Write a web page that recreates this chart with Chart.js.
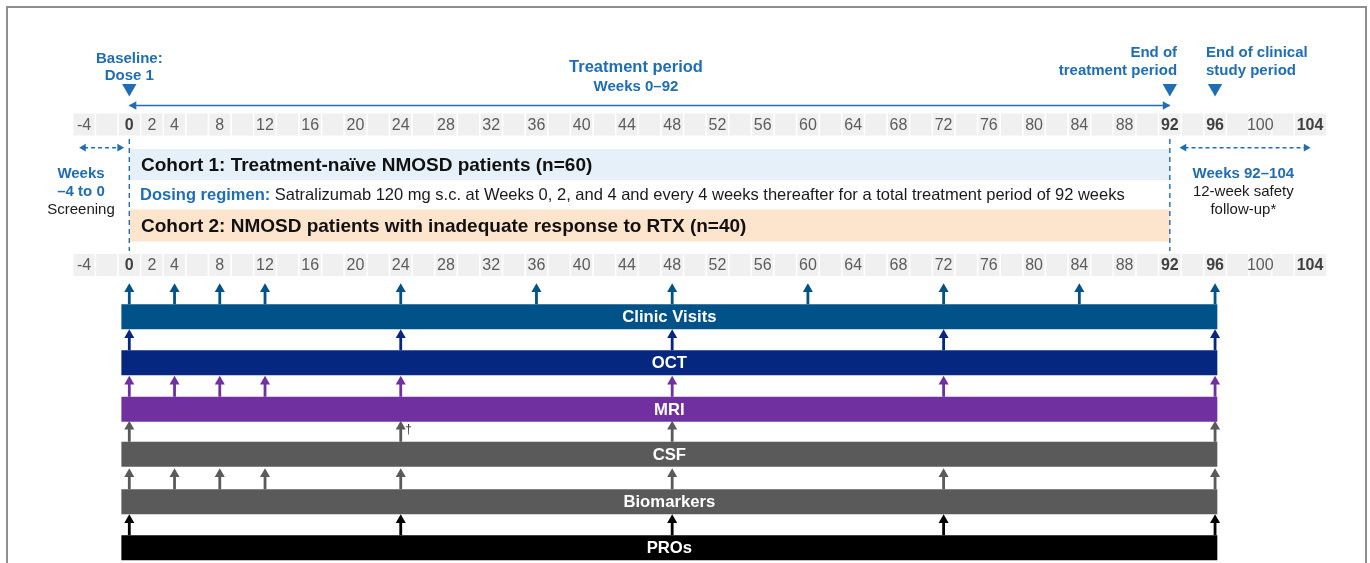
<!DOCTYPE html>
<html><head><meta charset="utf-8">
<script src="https://cdn.jsdelivr.net/npm/chart.js@4.4.1/dist/chart.umd.min.js"></script>
<style>
html,body{margin:0;padding:0;background:#fff;overflow:hidden}
#wrap{position:relative;width:1370px;height:563px}
#frame{position:absolute;left:6px;top:6px;width:1357px;height:620px;border:2px solid #8f8f8f;pointer-events:none}
</style></head><body>
<div id="wrap"><canvas id="c" width="1370" height="563"></canvas><div id="frame"></div></div>
<script>
// ---------------- DATA ----------------
const rowNames = ["Clinic Visits", "OCT", "MRI", "CSF", "Biomarkers", "PROs"];
const clinicWeeks = [0, 4, 8, 12, 24, 36, 48, 60, 72, 84, 96];
const octWeeks = [0, 24, 48, 72, 96];
const mriWeeks = [0, 4, 8, 12, 24, 48, 72, 96];
const csfWeeks = [0, 24, 48, 96];
const biomarkerWeeks = [0, 4, 8, 12, 24, 48, 72, 96];
const proWeeks = [0, 24, 48, 72, 96];
const cellWeeks = [-4, -2, 0, 2, 4, 6, 8, 10, 12, 14, 16, 18, 20, 22, 24, 26, 28, 30, 32, 34, 36, 38, 40, 42, 44, 46, 48, 50, 52, 54, 56, 58, 60, 62, 64, 66, 68, 70, 72, 74, 76, 78, 80, 82, 84, 86, 88, 90, 92, 94, 96, 98, 100, 102, 104];
const tickLabels = [-4, 0, 2, 4, 8, 12, 16, 20, 24, 28, 32, 36, 40, 44, 48, 52, 56, 60, 64, 68, 72, 76, 80, 84, 88, 92, 96, 100, 104];
const boldTicks = [0, 92, 96, 104];
const milestoneWeeks = [0, 92, 96];
const treatmentPeriod = [0, 92];
const screeningPeriod = [-4.4, -0.5];
const followUpPeriod = [92.9, 104.4];
const assessmentSpan = [-0.7, 96.2];
const csfFootnoteWeek = 24;

// ---------------- LAYOUT / STYLE ----------------
const ORIGIN = 129.3, PXW = 11.31, W = 1370, H = 563;
const BLUE = '#1f6db3';
const FONT = '"Liberation Sans", Arial, Helvetica, sans-serif';
const rowY = [316.8, 362.7, 409.2, 454.2, 501.7, 547.7];
const rowColors = ['#005288', '#05277f', '#7030a0', '#5a5a5a', '#5a5a5a', '#000000'];
const rowWeeks = [clinicWeeks, octWeeks, mriWeeks, csfWeeks, biomarkerWeeks, proWeeks];
const BAR_H = 25, ARROW_LEN = 21, HEAD_R = 5.8;
const tickRowY = [124.5, 265];
const CELL_HALF = 0.93;

function segs(pairs) { // pairs of [x0,y0,x1,y1] -> points separated by gaps
  const pts = [];
  pairs.forEach(p => { pts.push({x: p[0], y: p[1]}, {x: p[2], y: p[3]}, {x: p[2], y: null}); });
  return pts;
}
const datasets = [];
// tick cells
tickRowY.forEach(ty => {
  datasets.push({data: segs(cellWeeks.map(w => [w - CELL_HALF, ty, w + CELL_HALF + (w === 104 ? 0.9 : 0), ty])),
    borderColor: '#f0f0f0', borderWidth: 22, pointRadius: 0, spanGaps: false, order: 20});
});
// cohort boxes
datasets.push({data: segs([[treatmentPeriod[0], 164.5, treatmentPeriod[1], 164.5]]), borderColor: '#e5f0f8', borderWidth: 31, pointRadius: 0, order: 19});
datasets.push({data: segs([[treatmentPeriod[0], 225.5, treatmentPeriod[1], 225.5]]), borderColor: '#fde4cc', borderWidth: 32, pointRadius: 0, order: 19});
// dashed vertical lines
datasets.push({data: segs([[treatmentPeriod[0], 139, treatmentPeriod[0], 251], [treatmentPeriod[1], 139, treatmentPeriod[1], 251]]),
  borderColor: BLUE, borderWidth: 1.4, borderDash: [5, 4], pointRadius: 0, order: 10});
// treatment period arrow
datasets.push({data: segs([[treatmentPeriod[0], 105.5, treatmentPeriod[1], 105.5]]), borderColor: BLUE, borderWidth: 1.6, pointRadius: 0, order: 10});
datasets.push({data: [{x: treatmentPeriod[0] + 4.5 / PXW, y: 105.5}], showLine: false, pointStyle: 'triangle', rotation: -90, pointRadius: 5, backgroundColor: BLUE, borderColor: BLUE, borderWidth: 0, order: 9});
datasets.push({data: [{x: treatmentPeriod[1] - 4.5 / PXW, y: 105.5}], showLine: false, pointStyle: 'triangle', rotation: 90, pointRadius: 5, backgroundColor: BLUE, borderColor: BLUE, borderWidth: 0, order: 9});
// dashed horizontal arrows
[screeningPeriod, followUpPeriod].forEach(p => {
  datasets.push({data: segs([[p[0] + 0.4, 147.7, p[1] - 0.4, 147.7]]), borderColor: BLUE, borderWidth: 1.4, borderDash: [4, 3], pointRadius: 0, order: 10});
  datasets.push({data: [{x: p[0] + 4 / PXW, y: 147.7}], showLine: false, pointStyle: 'triangle', rotation: -90, pointRadius: 4.5, backgroundColor: BLUE, borderWidth: 0, order: 9});
  datasets.push({data: [{x: p[1] - 4 / PXW, y: 147.7}], showLine: false, pointStyle: 'triangle', rotation: 90, pointRadius: 4.5, backgroundColor: BLUE, borderWidth: 0, order: 9});
});
// milestone triangles
datasets.push({data: milestoneWeeks.map(w => ({x: w, y: 88.2})), showLine: false, pointStyle: 'triangle', rotation: 180, pointRadius: 8.3, backgroundColor: BLUE, borderWidth: 0, order: 9});
// assessment bars, stems, heads
rowNames.forEach((name, i) => {
  const top = rowY[i] - BAR_H / 2;
  datasets.push({data: segs([[assessmentSpan[0], rowY[i], assessmentSpan[1], rowY[i]]]), borderColor: rowColors[i], borderWidth: BAR_H, pointRadius: 0, order: 5});
  datasets.push({data: segs(rowWeeks[i].map(w => [w, top - ARROW_LEN + HEAD_R, w, top])), borderColor: rowColors[i], borderWidth: 2.8, pointRadius: 0, order: 4});
  datasets.push({data: rowWeeks[i].map(w => ({x: w, y: top - ARROW_LEN + HEAD_R})), showLine: false, pointStyle: 'triangle', rotation: 0, pointRadius: HEAD_R, backgroundColor: rowColors[i], borderWidth: 0, order: 3});
});

const texts = [
  {t: 'Baseline:', w: 0, y: 57.5, f: 'bold 15px', c: BLUE, a: 'center'},
  {t: 'Dose 1', w: 0, y: 75, f: 'bold 15px', c: BLUE, a: 'center'},
  {t: 'Treatment period', w: 44.8, y: 66.5, f: 'bold 16.5px', c: BLUE, a: 'center'},
  {t: 'Weeks 0–92', w: 44.8, y: 85.5, f: 'bold 15px', c: BLUE, a: 'center'},
  {t: 'End of', w: 92.64, y: 51.5, f: 'bold 15px', c: BLUE, a: 'right'},
  {t: 'treatment period', w: 92.64, y: 70, f: 'bold 15px', c: BLUE, a: 'right'},
  {t: 'End of clinical', w: 95.2, y: 51.5, f: 'bold 15px', c: BLUE, a: 'left'},
  {t: 'study period', w: 95.2, y: 70, f: 'bold 15px', c: BLUE, a: 'left'},
  {t: 'Weeks', w: -4.27, y: 172.5, f: 'bold 15px', c: BLUE, a: 'center'},
  {t: '–4 to 0', w: -4.27, y: 191, f: 'bold 15px', c: BLUE, a: 'center'},
  {t: 'Screening', w: -4.27, y: 209, f: '15px', c: '#1a1a1a', a: 'center'},
  {t: 'Weeks 92–104', w: 98.5, y: 172.5, f: 'bold 15px', c: BLUE, a: 'center'},
  {t: '12-week safety', w: 98.5, y: 191, f: '15px', c: '#1a1a1a', a: 'center'},
  {t: 'follow-up*', w: 98.5, y: 209, f: '15px', c: '#1a1a1a', a: 'center'},
  {t: 'Cohort 1: Treatment-naïve NMOSD patients (n=60)', w: 1.03, y: 164.5, f: 'bold 19px', c: '#111', a: 'left'},
  {t: 'Cohort 2: NMOSD patients with inadequate response to RTX (n=40)', w: 1.03, y: 226, f: 'bold 19px', c: '#111', a: 'left'},
  {t: '†', w: csfFootnoteWeek + 0.7, y: 429, f: '12px', c: '#333', a: 'center'}
];

const textPlugin = {
  id: 'texts',
  afterDatasetsDraw(chart) {
    const ctx = chart.ctx, xs = chart.scales.x, ys = chart.scales.y;
    ctx.save();
    ctx.textBaseline = 'middle';
    // tick labels
    tickRowY.forEach(ty => {
      tickLabels.forEach(v => {
        const b = boldTicks.includes(v);
        ctx.font = (b ? 'bold ' : '') + '16px ' + FONT;
        ctx.fillStyle = b ? '#404040' : '#5c5c5c';
        ctx.textAlign = 'center';
        ctx.fillText(String(v), xs.getPixelForValue(v === 104 ? 104.4 : v), ys.getPixelForValue(ty) + 1);
      });
    });
    texts.forEach(o => {
      ctx.font = o.f + ' ' + FONT;
      ctx.fillStyle = o.c;
      ctx.textAlign = o.a;
      ctx.fillText(o.t, xs.getPixelForValue(o.w), ys.getPixelForValue(o.y) + 1);
    });
    // dosing regimen line
    let x = xs.getPixelForValue(0.95), y = ys.getPixelForValue(194.5) + 1;
    ctx.textAlign = 'left';
    ctx.font = 'bold 16.5px ' + FONT; ctx.fillStyle = BLUE;
    const lab = 'Dosing regimen:';
    ctx.fillText(lab, x, y);
    x += ctx.measureText(lab + ' ').width;
    ctx.font = '16.5px ' + FONT; ctx.fillStyle = '#1a1a1a';
    ctx.fillText('Satralizumab 120 mg s.c. at Weeks 0, 2, and 4 and every 4 weeks thereafter for a total treatment period of 92 weeks', x, y);
    // bar labels
    ctx.textAlign = 'center';
    ctx.font = 'bold 16.7px ' + FONT; ctx.fillStyle = '#ffffff';
    rowNames.forEach((n, i) => {
      ctx.fillText(n, xs.getPixelForValue((assessmentSpan[0] + assessmentSpan[1]) / 2), ys.getPixelForValue(rowY[i]) + 1);
    });
    ctx.restore();
  }
};

new Chart(document.getElementById('c'), {
  type: 'line',
  data: {datasets},
  options: {
    responsive: false, animation: false, devicePixelRatio: 1,
    layout: {padding: 0, autoPadding: false},
    plugins: {legend: {display: false}, tooltip: {enabled: false}},
    events: [],
    elements: {line: {tension: 0, borderCapStyle: 'butt'}, point: {hitRadius: 0}},
    scales: {
      x: {type: 'linear', display: false, min: -ORIGIN / PXW, max: (W - ORIGIN) / PXW},
      y: {type: 'linear', display: false, min: 0, max: H, reverse: true}
    }
  },
  plugins: [textPlugin]
});
</script></body></html>
